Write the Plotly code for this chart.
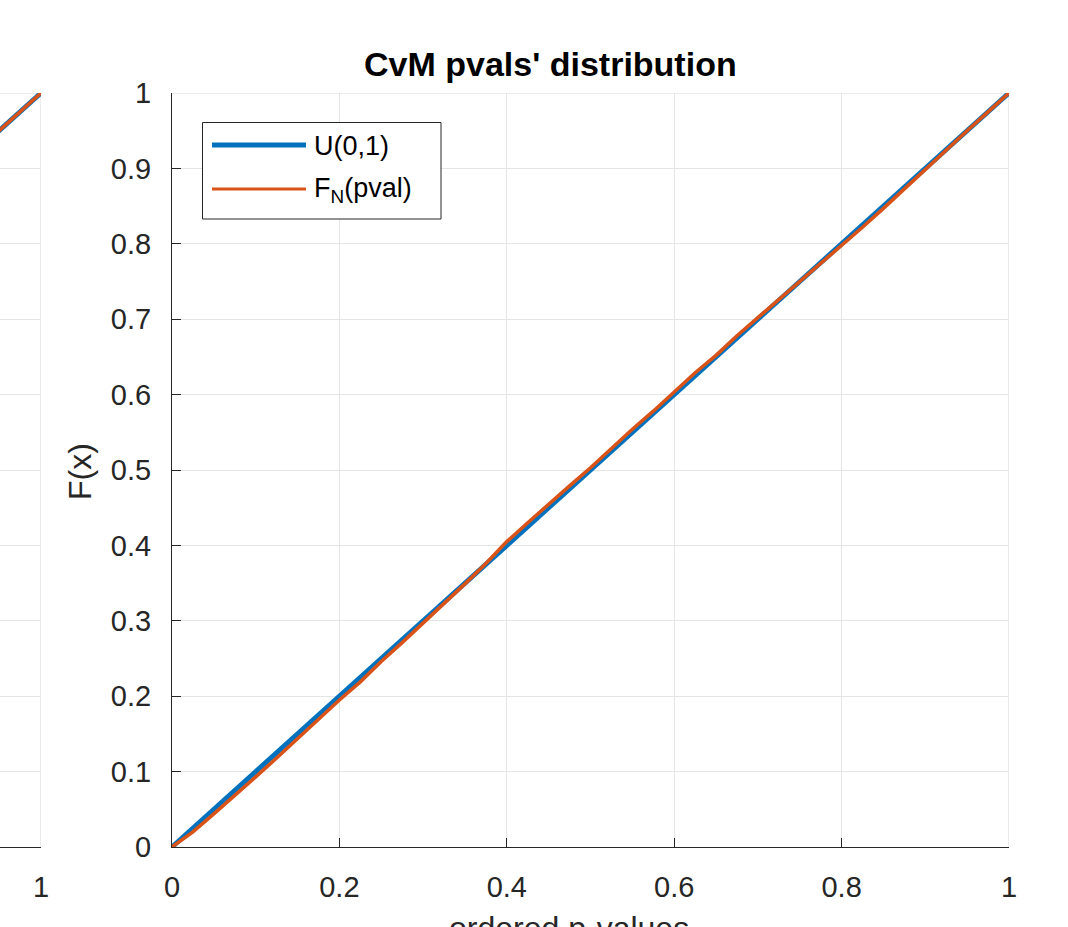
import plotly.graph_objects as go

# ---- data ----
u_x = [0.0, 1.0]
u_y = [0.0, 1.0]

pval_x = [0.000, 0.025, 0.050, 0.075, 0.100, 0.125, 0.150, 0.175, 0.200, 0.225,
          0.250, 0.275, 0.300, 0.325, 0.350, 0.375, 0.400, 0.425, 0.450, 0.475,
          0.500, 0.525, 0.550, 0.575, 0.600, 0.625, 0.650, 0.675, 0.700, 0.725,
          0.750, 0.775, 0.800, 0.825, 0.850, 0.875, 0.900, 0.925, 0.950, 0.975, 1.000]
pval_F = [0.000, 0.020, 0.044, 0.068, 0.093, 0.118, 0.144, 0.169, 0.195, 0.219,
          0.246, 0.271, 0.297, 0.322, 0.349, 0.376, 0.405, 0.430, 0.455, 0.479,
          0.503, 0.529, 0.554, 0.578, 0.603, 0.629, 0.652, 0.678, 0.702, 0.726,
          0.750, 0.773, 0.797, 0.822, 0.847, 0.873, 0.899, 0.924, 0.950, 0.975, 1.000]

# left (cropped) panel
left_x = [0.90, 0.925, 0.95, 0.975, 1.00]
left_F = [0.900, 0.925, 0.950, 0.975, 1.000]

x_ticks = [0, 0.2, 0.4, 0.6, 0.8, 1]
y_ticks = [0, 0.1, 0.2, 0.3, 0.4, 0.5, 0.6, 0.7, 0.8, 0.9, 1]
x_ticklabels = ["0", "0.2", "0.4", "0.6", "0.8", "1"]
y_ticklabels = ["0", "0.1", "0.2", "0.3", "0.4", "0.5", "0.6", "0.7", "0.8", "0.9", "1"]

BLUE = "#0072BD"
ORANGE = "#D95319"
DARK = "#262626"
GRID = "#E5E5E5"
FONT = "Liberation Sans, Arial, Helvetica, sans-serif"

W, H = 1068, 927
def px(x):
    return x / W
def py(y):
    return 1 - y / H

fig = go.Figure()
# main panel
fig.add_trace(go.Scatter(x=u_x, y=u_y, mode="lines", line=dict(color=BLUE, width=5),
                         xaxis="x", yaxis="y", showlegend=False))
fig.add_trace(go.Scatter(x=pval_x, y=pval_F, mode="lines", line=dict(color=ORANGE, width=3.5),
                         xaxis="x", yaxis="y", showlegend=False))
# left cropped panel
fig.add_trace(go.Scatter(x=u_x, y=u_y, mode="lines", line=dict(color=BLUE, width=5),
                         xaxis="x2", yaxis="y2", showlegend=False))
fig.add_trace(go.Scatter(x=left_x, y=left_F, mode="lines", line=dict(color=ORANGE, width=3.5),
                         xaxis="x2", yaxis="y2", showlegend=False))

ax_common = dict(showgrid=True, gridcolor=GRID, gridwidth=1, zeroline=False,
                 showline=True, linecolor=DARK, linewidth=1, ticks="inside",
                 ticklen=9, tickcolor=DARK, tickwidth=1, automargin=False,
                 tickfont=dict(family=FONT, size=29, color=DARK))

y0, y1 = py(847), py(93)
fig.update_layout(
    width=W, height=H,
    margin=dict(l=0, r=0, t=0, b=0, autoexpand=False),
    paper_bgcolor="white", plot_bgcolor="white",
    xaxis=dict(domain=[px(172), px(1009)], range=[0, 1], anchor="y",
               tickvals=x_ticks, ticktext=x_ticklabels, ticklabelstandoff=14, **ax_common),
    yaxis=dict(domain=[y0, y1], range=[0, 1], anchor="x",
               tickvals=y_ticks, ticktext=y_ticklabels, ticklabelstandoff=14, **ax_common),
    xaxis2=dict(domain=[0, px(41)], range=[1 - 41 / 837, 1], anchor="y2",
                tickvals=x_ticks, ticktext=x_ticklabels, ticklabelstandoff=14, **ax_common),
    yaxis2=dict(domain=[y0, y1], range=[0, 1], anchor="x2", automargin=False,
                tickvals=y_ticks, showticklabels=False, showline=False, ticks="",
                showgrid=True, gridcolor=GRID, zeroline=False),
    showlegend=False,
)

# grid lines on the outer (box-off) edges, as MATLAB draws them
for xr, yr in (("x", "y"), ("x2", "y2")):
    fig.add_shape(type="line", xref=xr, yref=yr, x0=1, x1=1, y0=0, y1=1,
                  line=dict(color=GRID, width=1.5), layer="below")
    fig.add_shape(type="line", xref=f"{xr} domain", yref=yr, x0=0, x1=1, y0=1, y1=1,
                  line=dict(color=GRID, width=1.5), layer="below")

# title and axis labels
fig.add_annotation(text="<b>CvM pvals' distribution</b>", x=px(550), y=py(64),
                   xref="paper", yref="paper", showarrow=False,
                   font=dict(family=FONT, size=34, color="black"),
                   xanchor="center", yanchor="middle")
fig.add_annotation(text="F(x)", x=px(80), y=py(472), xref="paper", yref="paper",
                   showarrow=False, textangle=-90,
                   font=dict(family=FONT, size=32, color=DARK),
                   xanchor="center", yanchor="middle")
fig.add_annotation(text="ordered p-values", x=px(569), y=py(928), xref="paper", yref="paper",
                   showarrow=False, font=dict(family=FONT, size=32, color=DARK),
                   xanchor="center", yanchor="middle")

# custom legend (MATLAB style)
fig.add_shape(type="rect", xref="paper", yref="paper",
              x0=px(202.5), x1=px(441), y0=py(219), y1=py(122.5),
              line=dict(color=DARK, width=1), fillcolor="white", layer="above")
fig.add_shape(type="line", xref="paper", yref="paper",
              x0=px(212), x1=px(306), y0=py(145), y1=py(145),
              line=dict(color=BLUE, width=5), layer="above")
fig.add_shape(type="line", xref="paper", yref="paper",
              x0=px(212), x1=px(306), y0=py(189), y1=py(189),
              line=dict(color=ORANGE, width=3), layer="above")
fig.add_annotation(text="U(0,1)", x=px(312), y=py(146), xref="paper", yref="paper",
                   showarrow=False, font=dict(family=FONT, size=27, color="black"),
                   xanchor="left", yanchor="middle")
fig.add_annotation(text="F<sub>N</sub>(pval)", x=px(312), y=py(190), xref="paper", yref="paper",
                   showarrow=False, font=dict(family=FONT, size=27, color="black"),
                   xanchor="left", yanchor="middle")

fig.write_html("out.html")
